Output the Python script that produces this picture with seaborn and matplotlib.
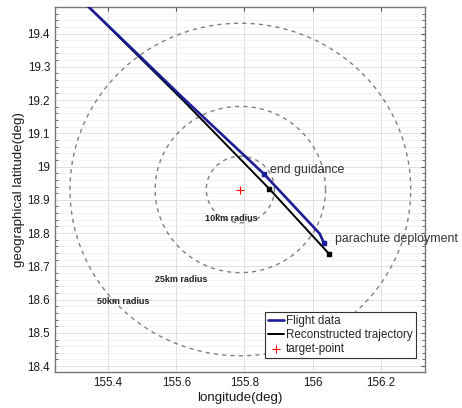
import numpy as np
import pandas as pd
import matplotlib
matplotlib.use("Agg")
import matplotlib.pyplot as plt
import seaborn as sns
from matplotlib.ticker import MultipleLocator

# ---- data ----
flight_lon = [155.30, 155.341, 155.622, 155.856, 156.021, 156.033]
flight_lat = [19.52, 19.482, 19.204, 18.979, 18.798, 18.771]
recon_lon = [155.30, 155.341, 155.618, 155.873, 156.048]
recon_lat = [19.52, 19.482, 19.201, 18.933, 18.738]
events = ["end guidance", "parachute deployment"]
flight_event_lon = [155.856, 156.033]
flight_event_lat = [18.979, 18.771]
recon_event_lon = [155.873, 156.048]
recon_event_lat = [18.933, 18.738]
event_label_lon = [155.874, 156.066]
event_label_lat = [18.99, 18.781]
target_lon = [155.788]
target_lat = [18.931]
radius_deg = [0.10, 0.25, 0.50]
radius_labels = ["10km radius", "25km radius", "50km radius"]
radius_label_lon = [155.761, 155.613, 155.444]
radius_label_lat = [18.843, 18.66, 18.593]
xticks = [155.4, 155.6, 155.8, 156.0, 156.2]
xticklabels = ["155.4", "155.6", "155.8", "156", "156.2"]
yticks = [18.4, 18.5, 18.6, 18.7, 18.8, 18.9, 19.0, 19.1, 19.2, 19.3, 19.4]
yticklabels = ["18.4", "18.5", "18.6", "18.7", "18.8", "18.9", "19", "19.1", "19.2", "19.3", "19.4"]

sns.set_theme(style="white")
plt.rcParams['font.family'] = ['Liberation Sans', 'DejaVu Sans']

fig = plt.figure(figsize=(4.62, 4.08), dpi=100)
ax = fig.add_axes([0.119, 0.088, 0.801, 0.895])

# circles
theta = np.linspace(0, 2 * np.pi, 400)
for r in radius_deg:
    cdf = pd.DataFrame({"lon": target_lon[0] + r * np.cos(theta),
                        "lat": target_lat[0] + r * np.sin(theta)})
    ax.plot(cdf["lon"], cdf["lat"], linestyle=(0, (3, 3)), color="#808080", lw=1.0, zorder=2)

fdf = pd.DataFrame({"lon": flight_lon, "lat": flight_lat})
rdf = pd.DataFrame({"lon": recon_lon, "lat": recon_lat})
sns.lineplot(data=fdf, x="lon", y="lat", sort=False, color="#1c1c96", lw=1.9, ax=ax,
             label="Flight data", zorder=4)
sns.lineplot(data=rdf, x="lon", y="lat", sort=False, color="black", lw=1.4, ax=ax,
             label="Reconstructed trajectory", zorder=3)
sns.scatterplot(x=target_lon, y=target_lat, marker="+", color="red", s=30, linewidth=0.8,
                ax=ax, label="target-point", zorder=5)
ax.scatter(flight_event_lon, flight_event_lat, marker="s", s=12, color="#1c1c96", zorder=6)
ax.scatter(recon_event_lon, recon_event_lat, marker="s", s=12, color="black", zorder=6)

for name, lo, la in zip(events, event_label_lon, event_label_lat):
    ax.text(lo, la, name, fontsize=8.9, color="#333333", va="center", ha="left")

for lab, lo, la in zip(radius_labels, radius_label_lon, radius_label_lat):
    ax.text(lo, la, lab, fontsize=6.5, fontweight="bold", color="#222222", ha="center", va="center")

ax.set_xlim(155.244, 156.33)
ax.set_ylim(18.382, 19.48)
ax.set_xticks(xticks)
ax.set_xticklabels(xticklabels)
ax.set_yticks(yticks)
ax.set_yticklabels(yticklabels)
ax.yaxis.set_minor_locator(MultipleLocator(0.02))
ax.tick_params(axis="both", which="major", direction="in", length=3, width=0.8,
               labelsize=8.4, colors="#555555", labelcolor="#1a1a1a",
               top=True, right=True)
ax.tick_params(axis="y", which="minor", direction="in", length=2, width=0.6,
               colors="#555555", left=True, right=True)
ax.grid(True, which="major", color="#e0e0e0", lw=0.7)
ax.grid(True, which="minor", axis="y", color="#eeeeee", lw=0.5)
ax.set_axisbelow(True)
for s in ax.spines.values():
    s.set_color("#777777")
    s.set_linewidth(1.0)

ax.set_xlabel("longitude(deg)", fontsize=9.6, color="#1a1a1a", labelpad=2)
ax.set_ylabel("geographical latitude(deg)", fontsize=9.6, color="#1a1a1a", labelpad=2)

leg = ax.legend(loc="lower right", bbox_to_anchor=(0.976, 0.038), borderaxespad=0,
                fontsize=8.4, frameon=True, fancybox=False,
                edgecolor="#333333", framealpha=1, handlelength=1.3, handletextpad=0.2,
                borderpad=0.3, labelspacing=0.15)
leg.get_frame().set_linewidth(0.8)

fig.savefig("out.png", dpi=100)
